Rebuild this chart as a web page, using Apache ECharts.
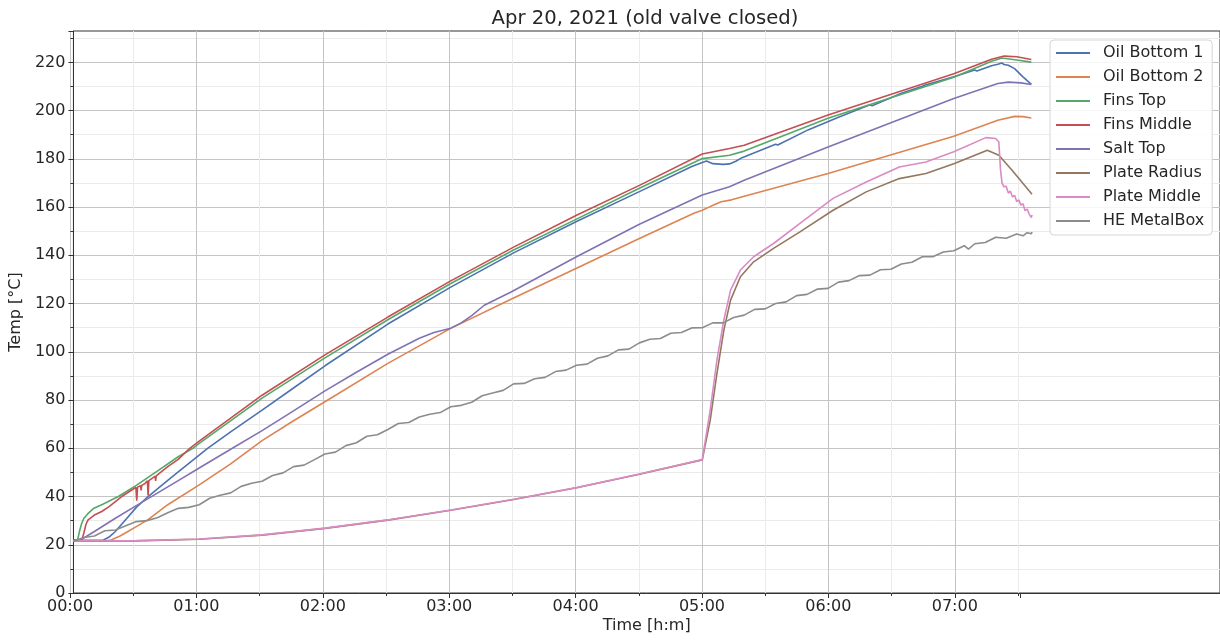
<!DOCTYPE html>
<html>
<head>
<meta charset="utf-8">
<script src="https://cdn.jsdelivr.net/npm/echarts@6/dist/echarts.min.js"></script>
<style>
  html, body { margin: 0; padding: 0; background: #fff; }
  #chart { width: 1220px; height: 640px; }
</style>
</head>
<body>
<div id="chart"></div>
<script>
// time in minutes since start, temperature in degC
var timeLabels = ['00:00', '01:00', '02:00', '03:00', '04:00', '05:00', '06:00', '07:00'];
var seriesNames = ['Oil Bottom 1', 'Oil Bottom 2', 'Fins Top', 'Fins Middle', 'Salt Top', 'Plate Radius', 'Plate Middle', 'HE MetalBox'];
var colors = ['#4c72b0', '#dd8452', '#55a868', '#c44e52', '#8172b3', '#937860', '#da8bc3', '#8c8c8c'];

var oilBottom1 = [[0,21.8],[14,21.8],[17,23.2],[20,25.5],[25,30.5],[30,35.5],[35.6,40],[45,46.7],[50,50.2],[60,57.2],
  [64,60],[75,66.8],[90,75.8],[105,85],[120,94.2],[150,111.5],[180,126.8],[210,141],[240,154],[270,166.4],[295,176.8],
  [300,178.5],[302,179.1],[305,178],[310,177.7],[313,177.9],[316,179],[319,180.5],[324,182.2],[335,186],[336,185.7],
  [350,191.8],[351,192.2],[365,197.2],[380,202.4],[381,202],[395,207.2],[405,210.1],[406,210.5],[420,214],[430,216.8],
  [431,216.4],[438,218.6],[441,219.2],[443,219.7],[444,219.1],[446,218.8],[449,217.4],[453,214],[457,210.9]];
var oilBottom2 = [[0,21.5],[15,21.6],[18,22],[22,23.5],[26,25.5],[30,27.5],[35.6,30.4],[45,36.6],[60,44.8],[75,53.5],
  [90,63.2],[105,71.4],[120,79.3],[150,95.2],[180,109.7],[210,122.3],[240,134.6],[270,147],[296,157.4],[300,158.7],
  [304,160.3],[309,162.2],[314,163],[320,164.5],[360,173.9],[420,189.4],[441,196],[449,197.6],[453,197.5],[457,196.9]];
var finsTop = [[0,21.8],[2,22],[3,26],[4,29],[5,31],[7,33],[9.5,35],[14,36.8],[21.4,40],[30,44.6],[40,50.5],[50,56.5],
  [57,60],[60,62],[90,80.8],[120,97.5],[150,113.3],[180,128.3],[210,142.2],[240,155],[270,167.8],[300,180.1],[313,181.5],
  [320,183.2],[360,196.8],[420,213.8],[438,220.5],[443,221.8],[450,221],[457,220.1]];
var finsMiddle = [[0,21.8],[4,21.9],[5,25],[6,28.5],[7,30.3],[10,32.3],[13.5,33.8],[17,35.8],[23,40],[28,42.8],[29.8,43.8],
  [30.2,38.3],[30.6,43.9],[32,44.5],[32.3,42.5],[32.6,44.6],[34,45.3],[35.3,46.5],[35.6,40.4],[36,46.6],[38,47.8],[39,48.4],
  [39.2,46.5],[39.5,48.6],[45,52.4],[50,55.4],[55.5,60],[60,63],[90,82],[120,98.7],[150,114.4],[180,129.4],[210,143.4],
  [240,156.6],[270,169],[300,182],[313,184.3],[320,185.6],[360,198.2],[420,215.3],[438,221.3],[444,222.6],[450,222.3],
  [457,221.2]];
var saltTop = [[0,21.7],[3,21.8],[10,25.5],[20,31],[30,36.2],[40,41.4],[50,46.6],[60,51.8],[75,59.6],[90,67.3],[105,75.5],
  [120,83.8],[135,91.5],[150,99],[165,105.6],[172,108],[180,109.8],[185,112],[190,115],[196,119.3],[209,124.9],
  [240,139.4],[270,152.9],[300,165],[313,168.4],[320,171.1],[360,184.9],[420,205],[441,211.2],[446,211.8],[452,211.5],
  [457,210.8]];
var plateRadius = [[0,21.5],[30,21.6],[60,22.3],[90,24],[120,26.8],[150,30.2],[180,34.3],[210,38.8],[240,43.6],[270,49.2],
  [300,55.2],[303.8,71.7],[307,91.1],[310.3,109],[313.5,121.4],[318.2,131.1],[324.5,137.3],[334,142.9],[346.6,149.7],
  [362.4,158.7],[378.2,166.3],[394,171.8],[406.7,173.9],[420,178],[436,183.6],[441.5,181.5],[447.8,175.3],[457.3,165.3]];
var plateMiddle = [[0,21.6],[30,21.7],[60,22.4],[90,24.1],[120,26.9],[150,30.3],[180,34.4],[210,38.9],[240,43.7],
  [270,49.3],[300,55.3],[303.8,75.9],[307,96.6],[310.3,113.2],[313.5,125.6],[318.2,133.9],[324.5,139.4],[334,144.9],
  [346.6,153.2],[362.4,163.6],[378.2,170.4],[394,176.6],[406.7,178.7],[420,182.9],[435.3,188.8],[440,188.4],[441.5,187],
  [442.3,175.3],[443,170],[443.9,168.4],[445,168.6],[446,165.8],[447,166.6],[448,164.2],[449,164.9],[450,162.3],
  [451,163],[452,160.8],[453,161.4],[454,158.5],[455,159.2],[456,157],[457,155.6],[457.3,156.8]];
var heMetalBox = [[0,21.5],[5,23],[10,23.6],[15,25.8],[20,26.1],[25,27.9],[30,29.6],[35,30],[40,31.2],[45,33.3],
  [50,35.1],[55,35.5],[60,36.6],[65,39.3],[70,40.5],[75,41.5],[80,44.2],[85,45.5],[90,46.3],[95,48.7],[100,49.8],
  [105,52.4],[110,53],[115,55.3],[120,57.6],[125,58.4],[130,61.1],[135,62.3],[140,65],[145,65.6],[150,67.8],[155,70.3],
  [160,70.7],[165,73],[170,74.1],[175,74.8],[180,77.2],[185,77.8],[190,79.1],[195,81.8],[200,82.9],[205,84],[210,86.7],
  [215,86.9],[220,88.8],[225,89.4],[230,91.8],[235,92.4],[240,94.4],[245,94.9],[250,97.3],[255,98.3],[260,100.8],
  [265,101.1],[270,103.7],[275,105.2],[280,105.5],[285,107.7],[290,108],[295,109.9],[300,110],[305,112],[310,112],
  [315,114.2],[320,115.2],[325,117.6],[330,117.8],[335,120],[340,120.7],[345,123.3],[350,123.8],[355,126],[360,126.3],
  [365,128.9],[370,129.5],[375,131.6],[380,131.8],[385,134],[390,134.2],[395,136.4],[400,137.1],[405,139.4],[410,139.4],
  [415,141.4],[420,141.9],[425,144],[427,142.6],[430,144.8],[435,145.3],[440,147.5],[445,147.1],[450,148.8],[453,148.1],
  [455,149.4],[457,148.9],[457.3,149.7]];

var allData = [oilBottom1, oilBottom2, finsTop, finsMiddle, saltTop, plateRadius, plateMiddle, heMetalBox];

var FONT = 'DejaVu Sans';
var TXT = '#262626';
var AX = '#333333';

var myChart = echarts.init(document.getElementById('chart'), null, { renderer: 'canvas' });

var series = [];
for (var i = 0; i < allData.length; i++) {
    series.push({
        name: seriesNames[i],
        type: 'line',
        xAxisIndex: 0,
        yAxisIndex: 0,
        data: allData[i],
        showSymbol: false,
        symbol: 'none',
        lineStyle: { width: 1.6, color: colors[i] },
        itemStyle: { color: colors[i] },
        z: 3
    });
}

var option = {
    animation: false,
    backgroundColor: '#ffffff',
    textStyle: { fontFamily: FONT, color: TXT },
    title: {
        text: 'Apr 20, 2021 (old valve closed)',
        left: 645,
        textAlign: 'center',
        top: 9,
        padding: 0,
        textStyle: { fontFamily: FONT, fontSize: 19.6, fontWeight: 'normal', color: TXT }
    },
    legend: {
        orient: 'vertical',
        left: 1050,
        top: 40,
        data: seriesNames,
        icon: 'rect',
        itemWidth: 34,
        itemHeight: 2,
        itemGap: 6,
        padding: [4, 8, 5, 6],
        backgroundColor: 'rgba(255,255,255,0.85)',
        borderColor: '#d6d6d6',
        borderWidth: 1,
        borderRadius: 4,
        textStyle: { fontFamily: FONT, fontSize: 16, color: TXT, lineHeight: 18, padding: [0, 0, 0, 8] }
    },
    grid: [
        { left: 70, right: -2, top: 31, bottom: 47, show: true, borderColor: AX, borderWidth: 1, backgroundColor: 'transparent' },
        { left: 70, width: 950.1, top: 31, bottom: 47 }
    ],
    xAxis: [
        {
            type: 'value', gridIndex: 0, min: 0, max: 547,
            name: 'Time [h:m]', nameLocation: 'middle', nameGap: 25,
            nameTextStyle: { fontFamily: FONT, fontSize: 16, color: TXT },
            axisLine: { show: true, lineStyle: { color: AX, width: 1 } },
            axisTick: { show: false }, axisLabel: { show: false }, splitLine: { show: false }
        },
        {
            type: 'value', gridIndex: 1, min: 0, max: 451, interval: 60,
            axisLine: { show: false },
            axisTick: { show: true, length: 5, lineStyle: { color: AX } },
            minorTick: { show: true, splitNumber: 2, length: 3, lineStyle: { color: AX } },
            axisLabel: {
                margin: 6, fontFamily: FONT, fontSize: 16, color: TXT, showMaxLabel: false,
                formatter: function (v) { return (v % 60 === 0 && v / 60 < timeLabels.length) ? timeLabels[v / 60] : ''; }
            },
            splitLine: { show: true, showMaxLine: false, lineStyle: { color: '#c4c4c4', width: 1 } },
            minorSplitLine: { show: true, lineStyle: { color: '#ebebeb', width: 1 } }
        }
    ],
    yAxis: [
        {
            type: 'value', gridIndex: 0, min: 0, max: 233, interval: 20,
            name: 'Temp [°C]', nameLocation: 'middle', nameGap: 41, nameRotate: 90,
            nameTextStyle: { fontFamily: FONT, fontSize: 16, color: TXT },
            axisLine: { show: true, lineStyle: { color: AX, width: 1 } },
            axisTick: { show: true, length: 5, lineStyle: { color: AX } },
            minorTick: { show: true, splitNumber: 2, length: 3, lineStyle: { color: AX } },
            axisLabel: { margin: 8, fontFamily: FONT, fontSize: 16, color: TXT, showMaxLabel: false },
            splitLine: { show: true, showMaxLine: false, lineStyle: { color: '#c4c4c4', width: 1 } },
            minorSplitLine: { show: true, lineStyle: { color: '#ebebeb', width: 1 } }
        },
        {
            type: 'value', gridIndex: 1, min: 0, max: 233, show: false,
            splitLine: { show: false }
        }
    ],
    series: series
};

myChart.setOption(option);
</script>
</body>
</html>
